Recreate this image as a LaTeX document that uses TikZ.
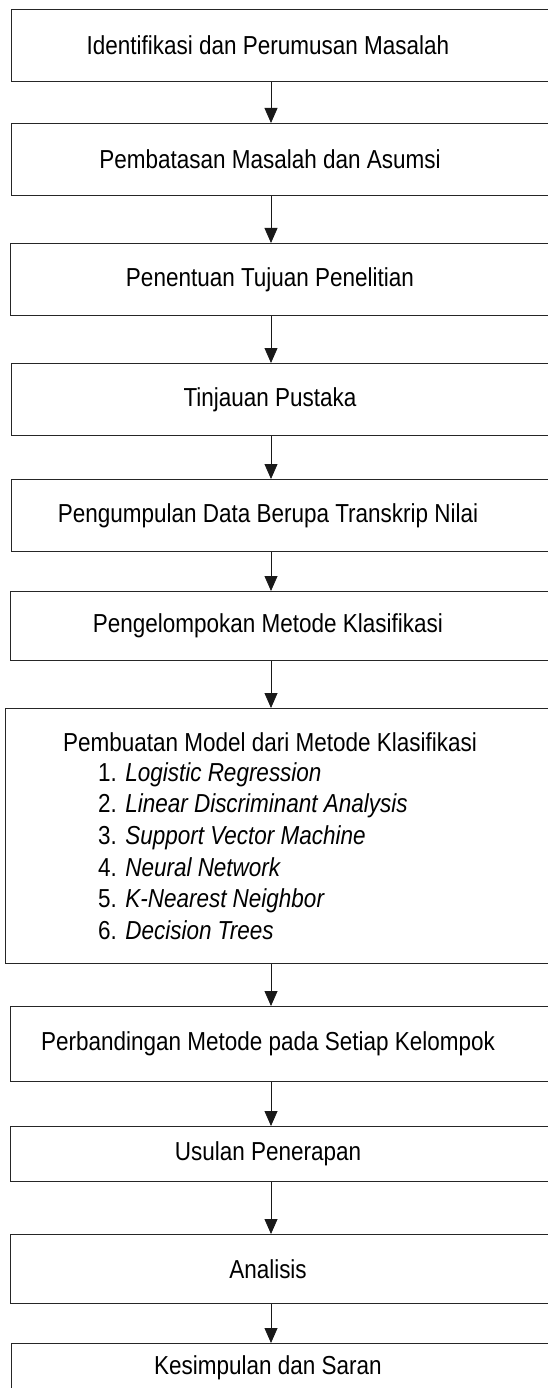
\documentclass[tikz,border=0pt]{standalone}
\usepackage{fontspec}
\setmainfont{Liberation Sans}[FakeStretch=0.865]
\usetikzlibrary{arrows.meta}
\begin{document}
\begin{tikzpicture}[x=1pt,y=-1pt,
  box/.style={draw=black!85, line width=1pt, rectangle, inner sep=0pt, anchor=north west},
  txt/.style={font=\fontsize{26}{31.6}\selectfont, inner sep=0pt},
  flow/.style={draw=black!90, line width=0.8pt, -{Triangle[width=13pt,length=15pt]}}]
\useasboundingbox (0,0) rectangle (548,1388);
\clip (0,0) rectangle (548,1388);
\fill[white] (0,0) rectangle (548,1388);
\coordinate (ax) at (271,0);
% boxes
\node[box, minimum width=560pt, minimum height=72pt] (b1) at (11,9) {};
\node[box, minimum width=560pt, minimum height=72pt] (b2) at (11,123) {};
\node[box, minimum width=560pt, minimum height=72pt] (b3) at (10,243) {};
\node[box, minimum width=560pt, minimum height=72pt] (b4) at (11,363) {};
\node[box, minimum width=560pt, minimum height=72pt] (b5) at (11,479) {};
\node[box, minimum width=560pt, minimum height=69pt] (b6) at (10,591) {};
\node[box, minimum width=560pt, minimum height=255pt] (b7) at (5,708) {};
\node[box, minimum width=560pt, minimum height=75pt] (b8) at (9.5,1006) {};
\node[box, minimum width=560pt, minimum height=55pt] (b9) at (9.5,1126) {};
\node[box, minimum width=560pt, minimum height=69pt] (b10) at (9.5,1234) {};
\node[box, minimum width=560pt, minimum height=80pt] (b11) at (11,1343) {};
% texts
\node[txt] (t1) at (b1.center -| 268,0) {Identifikasi dan Perumusan Masalah};
\node[txt] (t2) at (b2.center -| 270,0) {Pembatasan Masalah dan Asumsi};
\node[txt] (t3) at (b3.center -| 270,0) {Penentuan Tujuan Penelitian};
\node[txt] (t4) at (b4.center -| 270,0) {Tinjauan Pustaka};
\node[txt] (t5) at (b5.center -| 268,0) {Pengumpulan Data Berupa Transkrip Nilai};
\node[txt] (t6) at (b6.center -| 268,0) {Pengelompokan Metode Klasifikasi};
\node[txt] (t7) at (270,742) {Pembuatan Model dari Metode Klasifikasi};
\node[txt, align=left, anchor=west] (t7l) at (98,851) {1. \textit{Logistic Regression}\\
2. \textit{Linear Discriminant Analysis}\\
3. \textit{Support Vector Machine}\\
4. \textit{Neural Network}\\
5. \textit{K-Nearest Neighbor}\\
6. \textit{Decision Trees}};
\node[txt] (t8) at (b8.center -| 268,0) {Perbandingan Metode pada Setiap Kelompok};
\node[txt] (t9) at (b9.center -| 268,0) {Usulan Penerapan};
\node[txt] (t10) at (b10.center -| 268,0) {Analisis};
\node[txt] (t11) at (268,1368) {Kesimpulan dan Saran};
% arrows
\foreach \a/\b in {b1/b2,b2/b3,b3/b4,b4/b5,b5/b6,b6/b7,b7/b8,b8/b9,b9/b10,b10/b11}
  \draw[flow] (\a.south -| ax) -- (\b.north -| ax);
\end{tikzpicture}
\end{document}
